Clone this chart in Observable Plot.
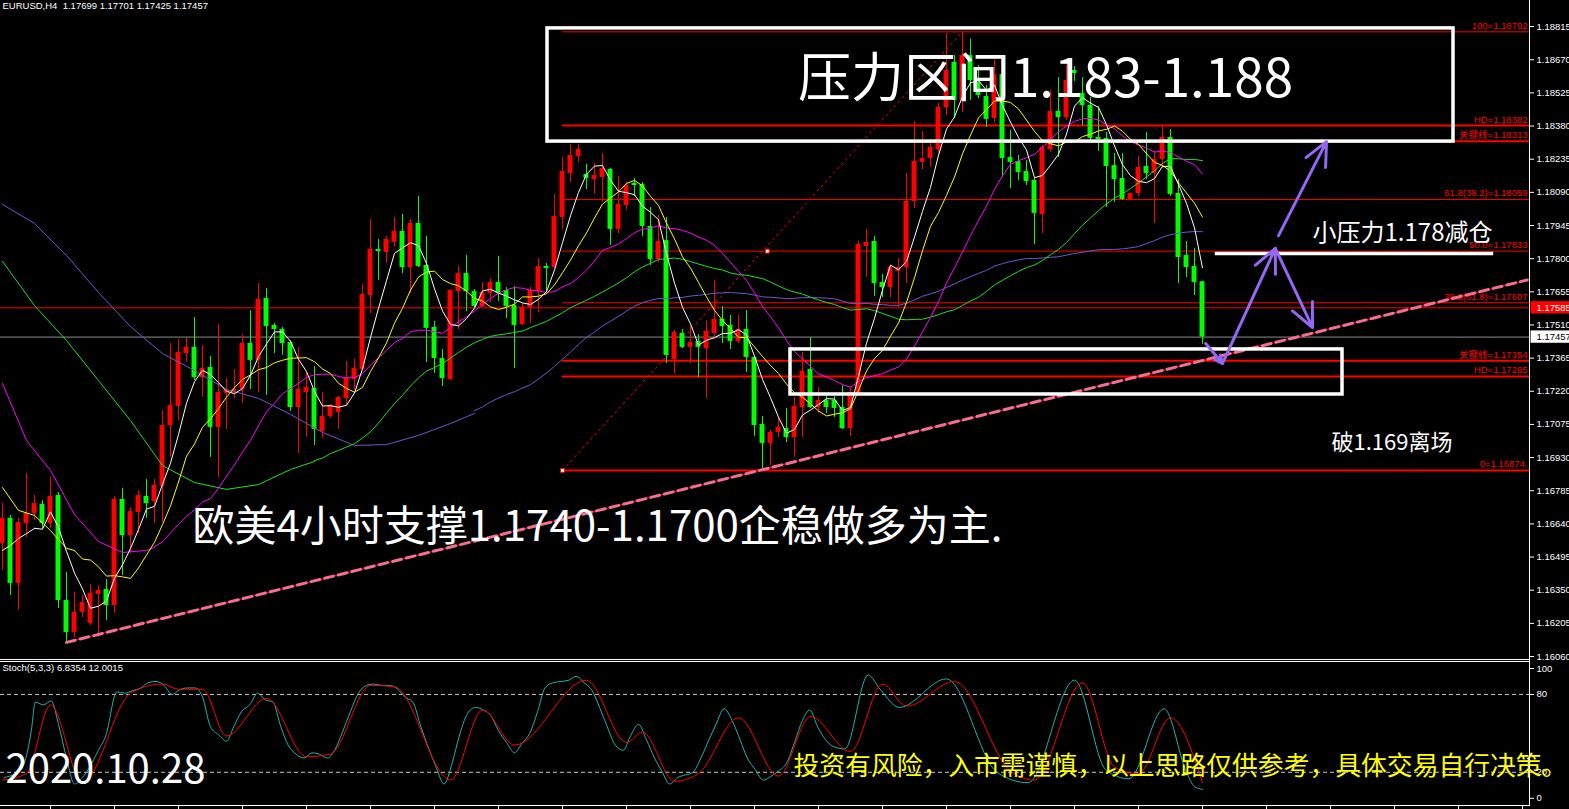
<!DOCTYPE html>
<html><head><meta charset="utf-8">
<script src="https://cdn.jsdelivr.net/npm/d3@7"></script>
<script src="https://cdn.jsdelivr.net/npm/@observablehq/plot@0.6"></script>
<style>
html,body{margin:0;padding:0;background:#000;overflow:hidden;}
#wrap{position:relative;width:1569px;height:809px;background:#000;}
#main{position:absolute;left:0;top:0;}
#stoch{position:absolute;left:0;top:660px;}
.hl{position:absolute;left:0;width:1529px;height:1px;background:#fff;}
.vl{position:absolute;left:1529px;top:0;width:1px;height:806px;background:#fff;}
svg{overflow:visible}
</style></head>
<body><div id="wrap"><div id="main"></div><div id="stoch"></div>
<div class="hl" style="top:659px"></div><div class="hl" style="top:661px"></div><div class="hl" style="top:805px"></div><div class="vl"></div></div>
<script>
// ---------- EURUSD H4 candles ----------
const opens = [1.16554,1.16664,1.16380,1.16642,1.16686,1.16725,1.16642,1.16764,1.16305,1.16165,
1.16253,1.16205,1.16331,1.16353,1.16283,1.16747,1.16589,1.16690,1.16760,1.16738,
1.16804,1.17070,1.17154,1.17385,1.17412,1.17280,1.17324,1.17062,1.17210,1.17219,
1.17228,1.17429,1.17355,1.17626,1.17508,1.17490,1.17433,1.17149,1.17215,1.17232,
1.17044,1.17110,1.17127,1.17189,1.17272,1.17315,1.17639,1.17840,1.17827,1.17871,
1.17919,1.17761,1.17954,1.17770,1.17499,1.17363,1.17272,1.17656,1.17735,1.17656,
1.17591,1.17648,1.17696,1.17661,1.17595,1.17512,1.17586,1.17656,1.17766,1.17761,
1.17980,1.18172,1.18247,1.18168,1.18146,1.18155,1.18190,1.17928,1.18033,1.18129,
1.18124,1.17941,1.17796,1.17879,1.17359,1.17473,1.17412,1.17438,1.17407,1.17473,
1.17534,1.17508,1.17438,1.17490,1.17368,1.17075,1.16992,1.17040,1.17057,1.17018,
1.17149,1.17315,1.17149,1.17180,1.17180,1.17149,1.17057,1.17210,1.17853,1.17875,
1.17696,1.17674,1.17744,1.17761,1.18050,1.18221,1.18238,1.18277,1.18461,1.18658,
1.18492,1.18688,1.18570,1.18509,1.18413,1.18605,1.18242,1.18225,1.18181,1.18142,
1.17993,1.18277,1.18444,1.18417,1.18623,1.18522,1.18470,1.18330,1.18326,1.18207,
1.18151,1.18059,1.18085,1.18203,1.18172,1.18234,1.18330,1.18085,1.17814,1.17766,
1.17699];
const highs = [1.16729,1.16677,1.16664,1.16861,1.16764,1.16742,1.16843,1.16777,1.16428,1.16340,
1.16327,1.16375,1.16371,1.16397,1.16760,1.16795,1.16712,1.16786,1.16834,1.16834,
1.17136,1.17429,1.17447,1.17451,1.17543,1.17420,1.17372,1.17512,1.17276,1.17315,
1.17468,1.17573,1.17691,1.17670,1.17517,1.17499,1.17442,1.17412,1.17302,1.17328,
1.17215,1.17162,1.17197,1.17350,1.17359,1.17687,1.17971,1.17884,1.17897,1.17980,
1.17993,1.17971,1.18072,1.17897,1.17525,1.17403,1.17665,1.17766,1.17814,1.17665,
1.17696,1.17713,1.17810,1.17674,1.17678,1.17604,1.17674,1.17801,1.17779,1.18081,
1.18242,1.18299,1.18299,1.18212,1.18216,1.18260,1.18194,1.18159,1.18133,1.18151,
1.18133,1.18024,1.17989,1.17980,1.17486,1.17490,1.17503,1.17468,1.17530,1.17705,
1.17591,1.17552,1.17552,1.17573,1.17372,1.17110,1.17049,1.17101,1.17145,1.17193,
1.17390,1.17455,1.17237,1.17197,1.17197,1.17245,1.17237,1.17875,1.17928,1.17897,
1.17731,1.17766,1.17801,1.18172,1.18400,1.18356,1.18304,1.18479,1.18785,1.18688,
1.18792,1.18760,1.18645,1.18557,1.18667,1.18623,1.18361,1.18251,1.18229,1.18151,
1.18295,1.18535,1.18592,1.18645,1.18640,1.18592,1.18505,1.18465,1.18352,1.18260,
1.18260,1.18085,1.18247,1.18352,1.18269,1.18378,1.18365,1.18146,1.17875,1.17845,
1.17701];
const lows = [1.16436,1.16327,1.16261,1.16581,1.16655,1.16620,1.16620,1.16270,1.16122,1.16143,
1.16231,1.16196,1.16143,1.16218,1.16248,1.16415,1.16511,1.16598,1.16664,1.16642,
1.16646,1.16931,1.17092,1.17346,1.17267,1.17193,1.16931,1.16843,1.17053,1.17189,
1.17167,1.17228,1.17215,1.17202,1.17385,1.17377,1.17132,1.16948,1.17018,1.16983,
1.17014,1.17101,1.17053,1.17158,1.17224,1.17311,1.17560,1.17705,1.17779,1.17849,
1.17735,1.17648,1.17761,1.17346,1.17298,1.17241,1.17267,1.17490,1.17569,1.17586,
1.17586,1.17608,1.17613,1.17538,1.17320,1.17508,1.17517,1.17565,1.17652,1.17757,
1.17928,1.18133,1.18221,1.18102,1.18081,1.18046,1.17858,1.17910,1.18011,1.18072,
1.17897,1.17770,1.17783,1.17342,1.17298,1.17407,1.17342,1.17280,1.17189,1.17447,
1.17429,1.17403,1.17429,1.17302,1.17022,1.16878,1.16896,1.17018,1.16996,1.16931,
1.17018,1.17145,1.17123,1.17123,1.17105,1.17053,1.17022,1.17206,1.17718,1.17635,
1.17630,1.17630,1.17586,1.17691,1.18019,1.18190,1.18199,1.18260,1.18426,1.18413,
1.18439,1.18492,1.18500,1.18374,1.18395,1.18155,1.18107,1.18142,1.18120,1.17862,
1.17910,1.18264,1.18242,1.18404,1.18575,1.18382,1.18317,1.18269,1.18024,1.18046,
1.18054,1.18054,1.18072,1.18146,1.17954,1.18194,1.18072,1.17691,1.17718,1.17639,
1.17425];
const closes = [1.16664,1.16380,1.16646,1.16686,1.16729,1.16642,1.16760,1.16305,1.16165,1.16253,
1.16296,1.16336,1.16349,1.16283,1.16747,1.16589,1.16694,1.16764,1.16729,1.16808,
1.17070,1.17158,1.17390,1.17412,1.17280,1.17320,1.17062,1.17215,1.17224,1.17228,
1.17429,1.17355,1.17621,1.17503,1.17490,1.17429,1.17149,1.17228,1.17237,1.17053,
1.17110,1.17158,1.17193,1.17280,1.17320,1.17643,1.17840,1.17831,1.17884,1.17919,
1.17761,1.17954,1.17766,1.17495,1.17363,1.17276,1.17661,1.17735,1.17656,1.17591,
1.17652,1.17696,1.17652,1.17591,1.17508,1.17586,1.17661,1.17766,1.17757,1.17984,
1.18181,1.18251,1.18277,1.18151,1.18164,1.18194,1.17928,1.18037,1.18120,1.18120,
1.17941,1.17796,1.17875,1.17377,1.17477,1.17412,1.17433,1.17412,1.17482,1.17534,
1.17503,1.17438,1.17490,1.17368,1.17070,1.16992,1.17040,1.17062,1.17018,1.17154,
1.17307,1.17149,1.17180,1.17149,1.17145,1.17057,1.17215,1.17862,1.17871,1.17691,
1.17674,1.17761,1.17761,1.18050,1.18225,1.18238,1.18286,1.18461,1.18623,1.18492,
1.18688,1.18579,1.18514,1.18409,1.18605,1.18238,1.18221,1.18177,1.18137,1.17998,
1.18286,1.18444,1.18417,1.18579,1.18610,1.18470,1.18326,1.18321,1.18203,1.18146,
1.18059,1.18085,1.18199,1.18172,1.18234,1.18330,1.18081,1.17805,1.17761,1.17696,
1.17457];

// moving-average values at the left edge (their history is off screen)
const ma5EarlyIdx = [0,1,2,3,4];
const ma5EarlyVal = [1.16524,1.16546,1.16576,1.16598,1.16620];
const ma10EarlyIdx = [0,2,4,6,8,9];
const ma10EarlyVal = [1.16799,1.16699,1.16677,1.16611,1.16533,1.16524];
const ma20EarlyIdx = [0,3,6,9,12,15,18,19];
const ma20EarlyVal = [1.17254,1.17005,1.16874,1.16681,1.16563,1.16515,1.16524,1.16537];
const ma40EarlyIdx = [0,4,8,12,16,20,24,28,32,36,39];
const ma40EarlyVal = [1.17788,1.17595,1.17442,1.17267,1.17092,1.16895,1.16821,1.16791,1.16812,1.16878,1.16913];
const ma60EarlyIdx = [0,4,8,12,16,20,24,28,32,36,40,44,48,52,56,59];
const ma60EarlyVal = [1.18037,1.17954,1.17814,1.17652,1.17503,1.17385,1.17311,1.17228,1.17189,1.17119,1.17040,1.16983,1.16987,1.17027,1.17079,1.17123];

// Stochastic (5,3,3): main (%K) and signal (%D), read where the lines were traced
const kIdx = [0.2,2.2,3.6,4.1,5.1,6.1,7.0,8.0,9.0,10.0,10.9,11.9,12.9,14.3,15.3,16.3,17.3,18.2,19.2,20.2,
21.2,22.1,23.1,24.1,25.0,26.0,27.0,28.0,28.9,29.9,30.9,31.9,32.8,33.8,34.8,35.7,36.7,37.7,38.7,39.6,
40.6,41.6,42.5,43.5,44.5,45.5,46.4,47.4,48.4,49.4,50.3,51.3,52.3,53.3,54.2,55.2,56.2,57.1,58.1,59.1,
60.1,61.0,62.0,63.0,64.0,64.9,65.9,66.9,67.8,68.8,69.8,70.8,71.7,72.7,73.7,74.7,75.6,76.6,77.6,78.5,
79.5,80.5,81.5,82.4,83.4,84.4,85.4,86.3,87.3,88.3,89.2,90.2,91.2,92.2,93.1,94.1,95.1,96.1,97.0,98.0,
99.0,100.0,100.9,101.9,102.9,103.8,105.3,108.2,109.7,112.1,118.0,124.3,128.2,134.0,137.9,140.8,145.2,148,149,150];
const kVal = [16,21,52,74,72,75,57,31,11,16,24,36,48,82,81,83,85,89,90,87,
80,83.5,85,85,78,55,49,44,55,67,72,81,76,74,55,41,34,31,35,34,
31,38,51,67,81,87,88,87,87,84,78,74,55,38,24,11,27,48,65,70,
68,64,52,43,35,42,50,67,85,89,90,91,94,89,83,69,55,41,37,48,
57,45,31,21,11,16,18,20,31,45,57,69,60,45,31,22,14,17,21,27,
43,60,68,55,45,40,38,95,84,70,92,20,12,91,22,15,69,20,9,6.8354];
const dIdx = [0,3,6,10,16,20,22,25,28,33,38,41,46,49,56,60,64,73,78,80,84,87,92,97,101,106,110,113,119,126,129,135,139,142,146,150];
const dVal = [14,19,72,12,81,88,84,84,48,77,32,34,87,86,14,68,41,91,43,51,13,19,62,17,63,36,88,71,90,21,14,89,24,19,62,12.0015];
const stochLevels = [20, 80];
const stochTicks = [0, 20, 80, 100];

// axes
const yTicks = [1.18815,1.18670,1.18525,1.18380,1.18235,1.18090,1.17945,1.17800,1.17655,1.17510,1.17365,1.17220,1.17075,1.16930,1.16785,1.16640,1.16495,1.16350,1.16205,1.16060];
const xTicks = [6,14,22,30,38,46,54,62,70,78,86,94,102,110,118,126,134,142,150,158,166,174,182,190];

// Fibonacci / key levels
const fibStart = 70;
const fibLevels = [1.18792,1.18382,1.18313,1.18059,1.17833,1.17607,1.17354,1.17285,1.16874];
const fibLabels = ["100=1.18792","HD=1.18382","关键线=1.18313","61.8(38.2)=1.18059","50.0=1.17833","38.2(61.8)=1.17607","关键线=1.17354","HD=1.17285","0=1.16874."];
const fibDiagIdx = [70, 120];
const fibDiagVal = [1.16874, 1.18792];
const fibMarkIdx = [70, 95.6];
const fibMarkVal = [1.16874, 1.17833];
const userLine = 1.17585;
const bidLine = 1.17457;

// trend line, zones, arrows
const trendIdx = [8, 190.6];
const trendVal = [1.16122, 1.17707];
const zoneX1 = [68.125, 98.5];
const zoneX2 = [181.375, 167.5];
const zoneTop = [1.18807, 1.17403];
const zoneBottom = [1.18312, 1.17206];
const resIdx = [151.6, 186.4];
const resVal = 1.17823;
const arrowX1 = [150.4, 152.5, 159.1, 159.5];
const arrowY1 = [1.17429, 1.17342, 1.17845, 1.17901];
const arrowX2 = [152.5, 159.1, 163.75, 165.5];
const arrowY2 = [1.17342, 1.17845, 1.17499, 1.18312];

// annotations
const noteText = ["压力区间1.183-1.188", "小压力1.178减仓", "破1.169离场", "欧美4小时支撑1.1740-1.1700企稳做多为主."];
const noteIdx = [130.375, 163.75, 166.125, 23.75];
const noteVal = [1.18582, 1.17910, 1.16996, 1.16624];
const header = "EURUSD,H4  1.17699 1.17701 1.17425 1.17457";
const stochHeader = "Stoch(5,3,3) 6.8354 12.0015";
const dateText = "2020.10.28";
const riskText = "投资有风险，入市需谨慎，以上思路仅供参考，具体交易自行决策。";

// ---------- build ----------
const xDomain = [-0.25, 190.875];
const yDomain = [1.16047, 1.18929];
const xMax = xDomain[1];
const candles = opens.map((o, i) => ({i, open: o, high: highs[i], low: lows[i], close: closes[i]}));
const ups = candles.filter(d => d.close >= d.open);
const downs = candles.filter(d => d.close < d.open);
const pts = (idx, val) => idx.map((x, k) => ({x, y: Array.isArray(val) ? val[k] : val}));
const fibs = fibLevels.map((v, k) => ({v, label: fibLabels[k], thick: /^(HD|关键线|0=)/.test(fibLabels[k])}));
const zones = zoneX1.map((x1, k) => ({x1, x2: zoneX2[k], y1: zoneTop[k], y2: zoneBottom[k]}));
const arrows = arrowX1.map((x1, k) => ({x1, y1: arrowY1[k], x2: arrowX2[k], y2: arrowY2[k]}));
const notes = noteText.map((t, k) => ({t, x: noteIdx[k], y: noteVal[k]}));
const tags = [{v: userLine, bg: "#ff0000", fg: "#ffffff"}, {v: bidLine, bg: "#ffffff", fg: "#000000"}];
const RED = "#ff0000", GRN = "#00ff00";
const CJK = "'Noto Sans CJK SC', 'Noto Sans', sans-serif";
const SMALL = "'Liberation Sans', 'Noto Sans CJK SC', sans-serif";
const maLine = (k, color, idx, val) => [
  Plot.line(candles, Plot.windowY({k, anchor: "end", strict: true}, {x: "i", y: "close", stroke: color, strokeWidth: 1})),
  Plot.line(pts(idx, val), {x: "x", y: "y", stroke: color, strokeWidth: 1})
];

const main = Plot.plot({
  width: 1569, height: 659,
  marginLeft: 0, marginRight: 40, marginTop: 0, marginBottom: 0,
  style: {background: "transparent", color: "white", fontFamily: SMALL, fontSize: "9.5px"},
  x: {domain: xDomain, axis: null},
  y: {domain: yDomain, axis: "right", ticks: yTicks, tickFormat: d => d.toFixed(5), tickSize: 4, tickPadding: 3, label: null},
  marks: [
    Plot.ruleY([userLine], {stroke: RED, strokeWidth: 1}),
    Plot.ruleY([bidLine], {stroke: "#8c8c8c", strokeWidth: 1}),
    Plot.ruleY(fibs.filter(d => !d.thick), {y: "v", x1: fibStart, x2: xMax, stroke: RED, strokeWidth: 1}),
    Plot.ruleY(fibs.filter(d => d.thick), {y: "v", x1: fibStart, x2: xMax, stroke: RED, strokeWidth: 2}),
    Plot.line(pts(fibDiagIdx, fibDiagVal), {x: "x", y: "y", stroke: RED, strokeWidth: 1, strokeDasharray: "2,4"}),
    Plot.ruleX(ups, {x: "i", y1: "low", y2: "high", stroke: RED, strokeWidth: 1}),
    Plot.ruleX(downs, {x: "i", y1: "low", y2: "high", stroke: GRN, strokeWidth: 1}),
    Plot.rect(ups, {x1: d => d.i - 0.31, x2: d => d.i + 0.31, y1: "open", y2: "close", fill: RED}),
    Plot.rect(downs, {x1: d => d.i - 0.31, x2: d => d.i + 0.31, y1: "open", y2: "close", fill: GRN}),
    ...maLine(60, "#6a5acd", ma60EarlyIdx, ma60EarlyVal),
    ...maLine(40, "#22e022", ma40EarlyIdx, ma40EarlyVal),
    ...maLine(20, "#ff00ff", ma20EarlyIdx, ma20EarlyVal),
    ...maLine(10, "#ffff00", ma10EarlyIdx, ma10EarlyVal),
    ...maLine(5, "#ffffff", ma5EarlyIdx, ma5EarlyVal),
    Plot.dot(pts(fibMarkIdx, fibMarkVal), {x: "x", y: "y", symbol: "square", r: 2.2, fill: "white", stroke: RED, strokeWidth: 1}),
    Plot.text(fibs, {x: xMax, y: "v", text: "label", textAnchor: "end", dx: -2, dy: -6, fill: RED, fontSize: 9.5, fontFamily: SMALL}),
    Plot.line(pts(trendIdx, trendVal), {x: "x", y: "y", stroke: RED, strokeWidth: 1}),
    Plot.line(pts(trendIdx, trendVal), {x: "x", y: "y", stroke: "#f46e93", strokeWidth: 3, strokeDasharray: "9,5"}),
    Plot.rect(zones, {x1: "x1", x2: "x2", y1: "y1", y2: "y2", fill: "none", stroke: "white", strokeWidth: 3.5}),
    Plot.ruleY([resVal], {x1: resIdx[0], x2: resIdx[1], stroke: "white", strokeWidth: 3.5}),
    Plot.arrow(arrows, {x1: "x1", y1: "y1", x2: "x2", y2: "y2", stroke: "#9468f2", strokeWidth: 3, headLength: 13, headAngle: 50}),
    Plot.text([notes[0]], {x: "x", y: "y", text: "t", fill: "white", fontSize: 53, fontFamily: CJK, textAnchor: "middle"}),
    Plot.text([notes[1]], {x: "x", y: "y", text: "t", fill: "white", fontSize: 24, fontFamily: CJK, textAnchor: "start"}),
    Plot.text([notes[2]], {x: "x", y: "y", text: "t", fill: "white", fontSize: 22, fontFamily: CJK, textAnchor: "start"}),
    Plot.text([notes[3]], {x: "x", y: "y", text: "t", fill: "white", fontSize: 42, fontFamily: CJK, textAnchor: "start"}),
    Plot.text([header], {frameAnchor: "top-left", text: d => d, lineAnchor: "top", dx: 2, dy: 2, fill: "white", fontSize: 9.5, fontFamily: SMALL}),
    Plot.rect(tags, {x1: xMax + 0.2, x2: xMax + 5.2, y1: d => d.v - 0.00027, y2: d => d.v + 0.00027, fill: "bg"}),
    Plot.text(tags, {x: xMax, y: "v", text: d => d.v.toFixed(5), textAnchor: "start", dx: 7, fill: "fg", fontSize: 9.5, fontFamily: SMALL})
  ]
});
document.getElementById("main").appendChild(main);

const stoch = Plot.plot({
  width: 1569, height: 149,
  marginLeft: 0, marginRight: 40, marginTop: 8, marginBottom: 4,
  style: {background: "transparent", color: "white", fontFamily: SMALL, fontSize: "9.5px"},
  x: {domain: xDomain, axis: "bottom", ticks: xTicks, tickFormat: () => "", tickSize: 4, label: null},
  y: {domain: [-5.6, 100], axis: "right", ticks: stochTicks, tickFormat: d => String(d), tickSize: 4, tickPadding: 3, label: null},
  marks: [
    Plot.ruleY(stochLevels, {stroke: "#c8c8c8", strokeWidth: 1, strokeDasharray: "4,3"}),
    Plot.line(pts(kIdx, kVal), {x: "x", y: "y", stroke: "#20b2aa", strokeWidth: 1, curve: "monotone-x"}),
    Plot.line(pts(dIdx, dVal), {x: "x", y: "y", stroke: "#ff0000", strokeWidth: 1, curve: "monotone-x"}),
    Plot.text([stochHeader], {frameAnchor: "top-left", text: d => d, lineAnchor: "middle", dx: 2, dy: -1, fill: "white", fontSize: 9.5, fontFamily: SMALL}),
    Plot.text([dateText], {x: 0.375, y: 21.4, text: d => d, textAnchor: "start", fill: "white", fontSize: 40, fontFamily: CJK}),
    Plot.text([riskText], {x: 98.875, y: 24.5, text: d => d, textAnchor: "start", fill: "#ffff00", fontSize: 25.8, fontFamily: CJK})
  ]
});
document.getElementById("stoch").appendChild(stoch);
</script></body></html>
